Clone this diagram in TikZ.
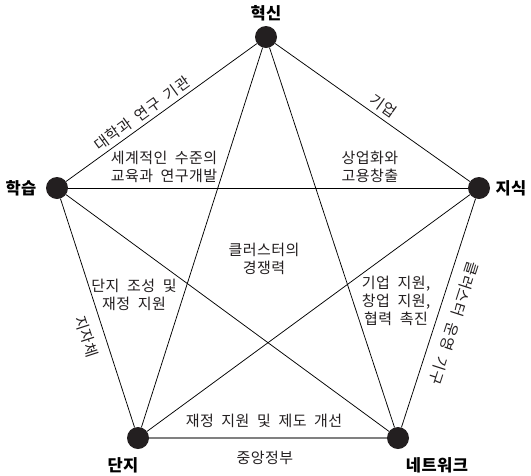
\documentclass[tikz,border=0pt]{standalone}
\usepackage{fontspec}
\setmainfont[WordSpace=2,LetterSpace=3]{Noto Sans CJK KR}
\definecolor{dotc}{HTML}{231F20}
\definecolor{basec}{HTML}{808080}
\begin{document}
\begin{tikzpicture}[x=1pt,y=-1pt,
  dot/.style={circle,fill=dotc,inner sep=0pt,minimum size=22pt},
  vlabel/.style={font=\fontsize{16.5}{18}\selectfont\bfseries,inner sep=0pt},
  txt/.style={font=\fontsize{15}{18}\selectfont,align=center,inner sep=0.5pt,text=dotc},
  edge/.style={draw=black,line width=0.75pt},
  baseedge/.style={draw=basec,line width=1.6pt}]
\useasboundingbox[fill=white] (0,0) rectangle (531,475);
% vertices
\node[dot] (H) at (266,37) {};
\node[dot] (L) at (57,188) {};
\node[dot] (K) at (479,188) {};
\node[dot] (D) at (138,438) {};
\node[dot] (N) at (398,438) {};
% vertex labels
\node[vlabel] (tH) at (266,13) {혁신};
\node[vlabel] (tL) at (21,188) {학습};
\node[vlabel] (tK) at (511,188) {지식};
\node[vlabel] (tD) at (123,465) {단지};
\node[vlabel] (tN) at (437,465) {네트워크};
% pentagon edges with labels
\draw[edge] (L) -- (H) node[txt,sloped,above=3pt,pos=0.43] (eLH) {대학과 연구 기관};
\draw[edge] (H) -- (K) node[txt,sloped,above=4pt,pos=0.52] (eHK) {기업};
\draw[edge] (L) -- (D) node[txt,sloped,below=10pt,pos=0.58] (eLD) {지자체};
\draw[edge] (K) -- (N) node[txt,sloped,allow upside down,above=10pt,pos=0.52] (eKN) {클러스터 운영 기구};
\draw[baseedge] (D) -- (N);
% diagonals
\draw[edge] (H) -- (D);
\draw[edge] (H) -- (N);
\draw[edge] (L) -- (K);
\draw[edge] (L) -- (N);
\draw[edge] (K) -- (D);
% inner texts
\node[txt] (t1) at (164,167) {세계적인 수준의\\교육과 연구개발};
\node[txt] (t2) at (370,167) {상업화와\\고용창출};
\node[txt] (t3) at (264,259) {클러스터의\\경쟁력};
\node[txt] (t4) at (134,295) {단지 조성 및\\재정 지원};
\node[txt] (t5) at (396,301) {기업 지원,\\창업 지원,\\협력 촉진};
\node[txt] (t6) at (264,421) {재정 지원 및 제도 개선};
\node[txt] (t7) at (265,458) {중앙정부};
\end{tikzpicture}
\end{document}
